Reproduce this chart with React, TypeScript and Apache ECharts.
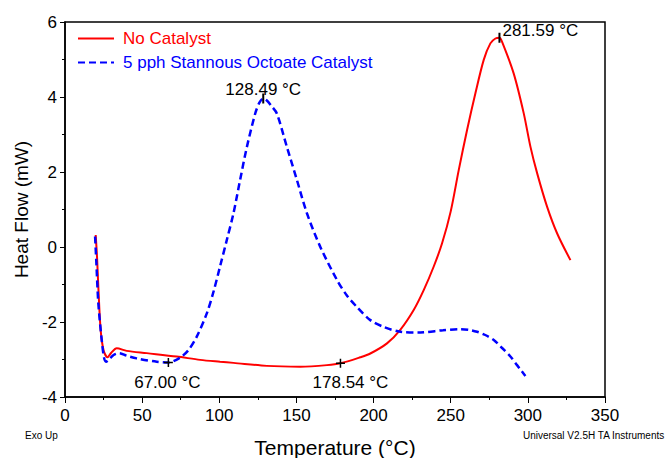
import React, { useEffect, useRef } from "react";
import * as echarts from "echarts";

const noCatalyst: [number, number][] = [
  [19.9, 0.32], [20.8, -0.3], [21.6, -1.06], [23.1, -2.21], [25, -2.75], [27.5, -2.94],
  [30, -2.82], [33.5, -2.7], [40, -2.77], [53, -2.83], [72.4, -2.92], [87.6, -3.01],
  [100.5, -3.06], [109.2, -3.09], [130.8, -3.17], [152.5, -3.19], [169.8, -3.15],
  [178.54, -3.1], [191.4, -2.94], [197.9, -2.84], [208.7, -2.57], [217.3, -2.21],
  [226, -1.68], [232.5, -1.15], [239, -0.52], [244.4, 0.1], [250, 0.95],
  [255.2, 2.05], [260.6, 3.12], [266, 4.1], [271.4, 4.99], [275.7, 5.43], [279, 5.56],
  [281.59, 5.58], [283.3, 5.47], [290.8, 4.63], [297.3, 3.57], [301.7, 2.67],
  [306, 1.97], [312.5, 1.07], [319, 0.36], [327.6, -0.35],
];

const stannous: [number, number][] = [
  [19.5, 0.28], [20.3, -0.4], [21.6, -1.5], [23.8, -2.48], [25.3, -2.95], [26.6, -3.06],
  [28.5, -3.0], [31.5, -2.88], [35.2, -2.83], [40, -2.9], [46.5, -2.97], [59.5, -3.06],
  [67, -3.08], [74.6, -2.95], [80, -2.75], [85.4, -2.39], [91.9, -1.77], [96.2, -1.2],
  [100.6, -0.5], [104.9, 0.19], [109.2, 0.9], [113.5, 1.79], [117.9, 2.67], [123.3, 3.56],
  [126, 3.85], [128.49, 3.96], [131, 3.9], [134, 3.75], [137.3, 3.56], [143.8, 2.67],
  [150.3, 1.79], [156.8, 0.9], [165.4, 0.01], [176.3, -0.88], [182.8, -1.3], [189.2, -1.6],
  [197.9, -1.95], [206.5, -2.13], [217.3, -2.26], [230.3, -2.28], [245, -2.22],
  [256.3, -2.19], [262, -2.21], [267.1, -2.26], [272, -2.34], [277.9, -2.48], [283, -2.68],
  [288.7, -2.92], [293, -3.15], [298.4, -3.44],
];

const seriesNames = ["No Catalyst", "5 pph Stannous Octoate Catalyst"];
const onsetPoints: [number, number, string][] = [
  [67.0, -3.08, "67.00 °C"],
  [178.54, -3.1, "178.54 °C"],
];
const peakPoints: [number, number, string][] = [
  [128.49, 3.96, "128.49 °C"],
  [281.59, 5.58, "281.59 °C"],
];

const FONT = "Liberation Sans, Arial, sans-serif";

export default function App() {
  const ref = useRef<HTMLDivElement>(null);
  useEffect(() => {
    document.body.style.margin = "0";
    const chart = echarts.init(ref.current!, null, { renderer: "svg" });
    chart.setOption({
      animation: false,
      backgroundColor: "#ffffff",
      textStyle: { fontFamily: FONT },
      grid: {
        left: 65, right: 65, top: 22, bottom: 61,
        outerBoundsMode: "none",
        containLabel: false,
        show: true, borderColor: "#000", borderWidth: 1.5,
      },
      legend: {
        orient: "vertical",
        left: 77, top: 30, padding: 0,
        itemWidth: 36, itemHeight: 2, itemGap: 7,
        itemStyle: { opacity: 0 },
        data: [
          { name: seriesNames[0], textStyle: { color: "#ff0000" } },
          { name: seriesNames[1], textStyle: { color: "#0000ff" } },
        ],
        textStyle: { fontSize: 17, fontFamily: FONT, padding: [0, 0, 0, 4] },
      },
      xAxis: {
        type: "value", min: 0, max: 350, interval: 50,
        name: "Temperature (°C)", nameLocation: "middle", nameGap: 40,
        nameTextStyle: { fontSize: 21, color: "#000", fontFamily: FONT },
        axisLine: { onZero: false, lineStyle: { color: "#000", width: 1.5 } },
        axisTick: { show: true, length: 6, lineStyle: { color: "#000" } },
        minorTick: { show: true, splitNumber: 2, length: 3, lineStyle: { color: "#000" } },
        axisLabel: { fontSize: 17, color: "#000", margin: 10, fontFamily: FONT },
        splitLine: { show: false },
      },
      yAxis: {
        type: "value", min: -4, max: 6, interval: 2,
        name: "Heat Flow (mW)", nameLocation: "middle", nameGap: 34, nameRotate: 90,
        nameTextStyle: { fontSize: 19, color: "#000", fontFamily: FONT },
        axisLine: { show: true, onZero: false, lineStyle: { color: "#000", width: 1.5 } },
        axisTick: { show: true, length: 5, lineStyle: { color: "#000" } },
        minorTick: { show: true, splitNumber: 2, length: 3, lineStyle: { color: "#000" } },
        axisLabel: { fontSize: 17, color: "#000", margin: 8, fontFamily: FONT },
        splitLine: { show: false },
      },
      series: [
        {
          name: seriesNames[0], type: "line", data: noCatalyst, smooth: 0.3,
          showSymbol: false, symbol: "none",
          lineStyle: { color: "#ff0000", width: 2 }, itemStyle: { color: "#ff0000" }, z: 2,
        },
        {
          name: seriesNames[1], type: "line", data: stannous, smooth: 0.3,
          showSymbol: false, symbol: "none",
          lineStyle: { color: "#0000ff", width: 2.5, type: [7, 4] }, itemStyle: { color: "#0000ff" }, z: 3,
        },
        {
          name: "onset", type: "scatter",
          data: onsetPoints.map((p, i) => ({
            value: [p[0], p[1]], name: p[2],
            label: { offset: i === 0 ? [-1, 0] : [10, 0] },
          })),
          symbol: "path://M0,5L10,5M5,0L5,10", symbolSize: 9,
          itemStyle: { color: "none", borderColor: "#000", borderWidth: 1.5, opacity: 1 },
          label: {
            show: true, position: "bottom", distance: 4, formatter: "{b}",
            fontSize: 17, color: "#000", fontFamily: FONT, opacity: 1,
          },
          z: 5,
        },
        {
          name: "peak", type: "scatter",
          data: peakPoints.map((p, i) => ({
            value: [p[0], p[1]], name: p[2],
            label: i === 0
              ? { position: "top", distance: 0, offset: [0, 4] }
              : { position: "right", distance: 2, offset: [0, -7] },
          })),
          symbol: "rect", symbolSize: [2, 10],
          itemStyle: { color: "#000", opacity: 1 },
          label: { show: true, formatter: "{b}", fontSize: 17, color: "#000", fontFamily: FONT },
          z: 5,
        },
      ],
      graphic: [
        { type: "text", left: 25, top: 430, style: { text: "Exo Up", fontSize: 10, fill: "#000", fontFamily: FONT } },
        { type: "text", right: 5, top: 430, style: { text: "Universal V2.5H TA Instruments", fontSize: 10, fill: "#000", fontFamily: FONT } },
      ],
    });
    return () => chart.dispose();
  }, []);
  return <div ref={ref} style={{ width: 670, height: 458 }} />;
}
